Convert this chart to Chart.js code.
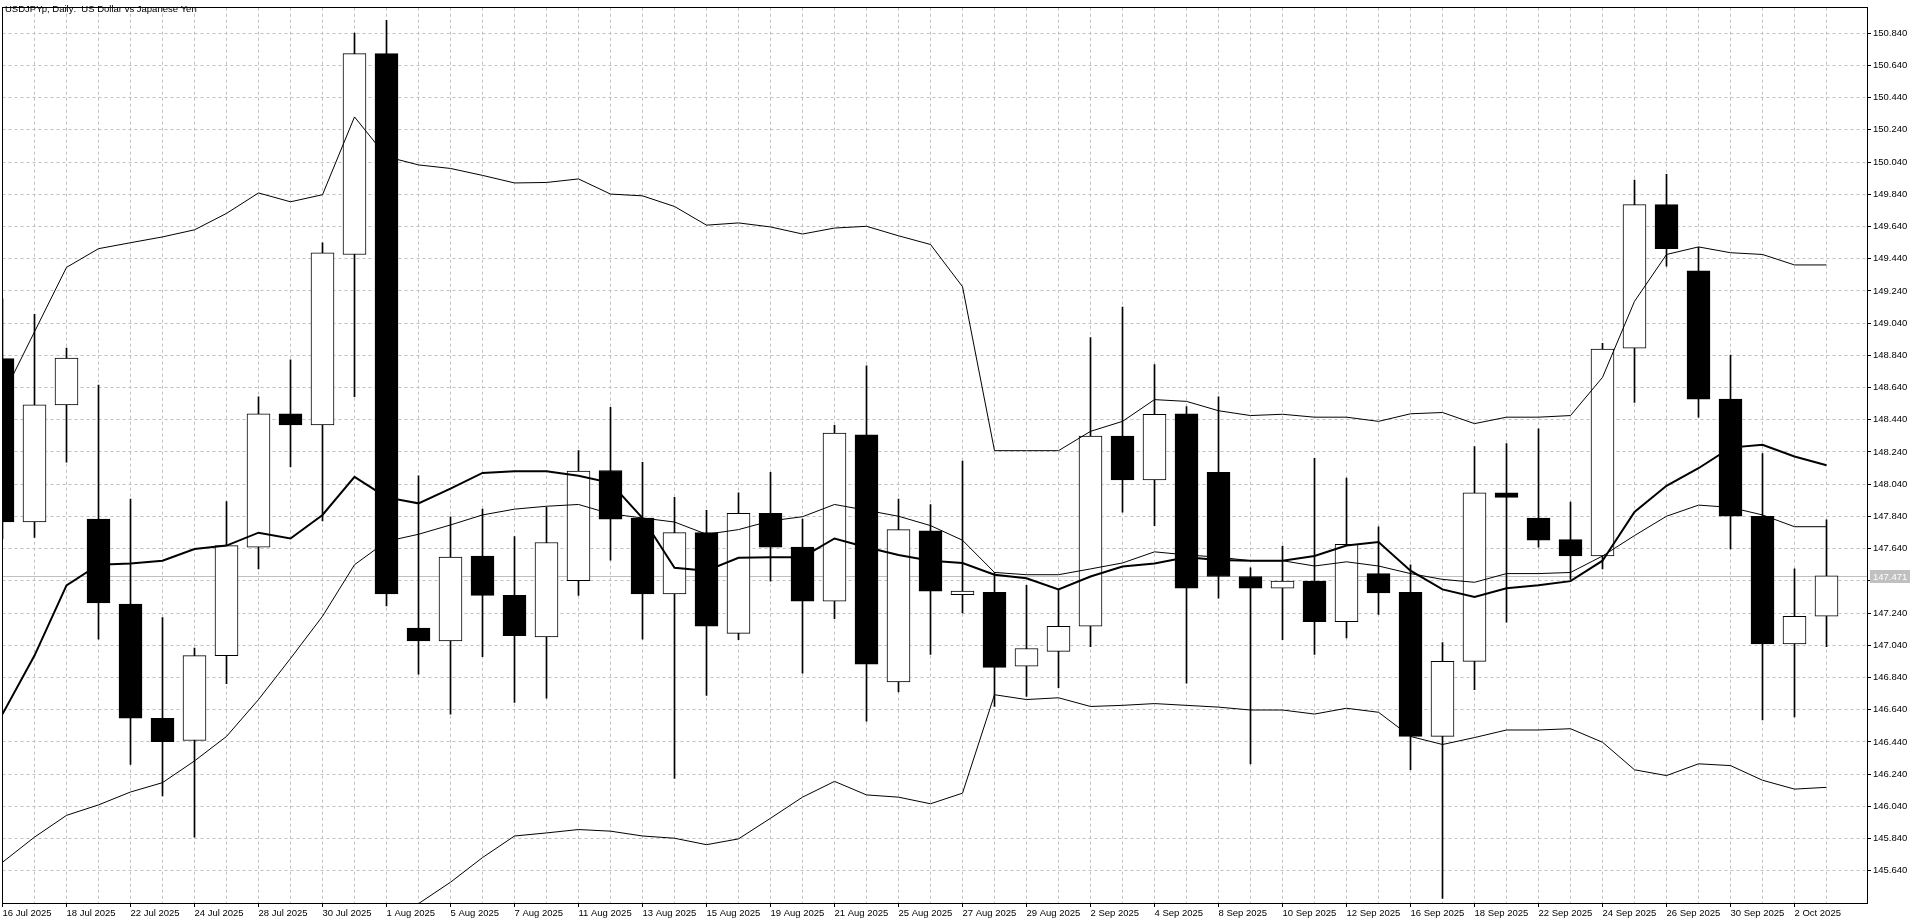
<!DOCTYPE html>
<html>
<head>
<meta charset="utf-8">
<title>USDJPYp, Daily</title>
<script src="https://cdn.jsdelivr.net/npm/chart.js@4.4.1/dist/chart.umd.min.js"></script>
<style>
  html, body { margin: 0; padding: 0; background: #fff; }
  #wrap { width: 1920px; height: 923px; position: relative; }
</style>
</head>
<body>
<div id="wrap"><canvas id="priceChart"></canvas></div>
<script>
const title = "USDJPYp, Daily:  US Dollar vs Japanese Yen";

const dates = [
  "16 Jul 2025", "17 Jul 2025", "18 Jul 2025", "21 Jul 2025", "22 Jul 2025", "23 Jul 2025",
  "24 Jul 2025", "25 Jul 2025", "28 Jul 2025", "29 Jul 2025", "30 Jul 2025", "31 Jul 2025",
  "1 Aug 2025", "4 Aug 2025", "5 Aug 2025", "6 Aug 2025", "7 Aug 2025", "8 Aug 2025",
  "11 Aug 2025", "12 Aug 2025", "13 Aug 2025", "14 Aug 2025", "15 Aug 2025", "18 Aug 2025",
  "19 Aug 2025", "20 Aug 2025", "21 Aug 2025", "22 Aug 2025", "25 Aug 2025", "26 Aug 2025",
  "27 Aug 2025", "28 Aug 2025", "29 Aug 2025", "1 Sep 2025", "2 Sep 2025", "3 Sep 2025",
  "4 Sep 2025", "5 Sep 2025", "8 Sep 2025", "9 Sep 2025", "10 Sep 2025", "11 Sep 2025",
  "12 Sep 2025", "15 Sep 2025", "16 Sep 2025", "17 Sep 2025", "18 Sep 2025", "19 Sep 2025",
  "22 Sep 2025", "23 Sep 2025", "24 Sep 2025", "25 Sep 2025", "26 Sep 2025", "29 Sep 2025",
  "30 Sep 2025", "1 Oct 2025", "2 Oct 2025", "3 Oct 2025"
];

const opens = [
  148.819, 147.805, 148.532, 147.823, 147.296, 146.587, 146.449, 146.976, 147.649, 148.477,
  148.408, 149.466, 150.713, 147.147, 147.067, 147.594, 147.350, 147.092, 147.441, 148.125,
  147.830, 147.358, 147.739, 147.114, 147.859, 147.649, 147.314, 148.347, 146.812, 147.750,
  147.354, 147.369, 146.911, 147.002, 147.158, 148.339, 148.067, 148.477, 148.114, 147.467,
  147.394, 147.438, 147.187, 147.485, 147.369, 146.474, 146.940, 147.987, 147.830, 147.696,
  147.594, 148.885, 149.775, 149.364, 148.568, 147.841, 147.049, 147.220
];
const highs = [
  149.190, 149.095, 148.885, 148.655, 147.947, 147.212, 147.023, 147.932, 148.583, 148.812,
  149.539, 150.840, 150.920, 148.092, 147.838, 147.885, 147.714, 147.896, 148.248, 148.517,
  148.176, 147.958, 147.878, 147.987, 148.114, 147.823, 148.405, 148.775, 147.947, 147.914,
  148.183, 147.492, 147.412, 147.383, 148.950, 149.139, 148.783, 148.521, 148.583, 147.521,
  147.656, 148.201, 148.078, 147.776, 147.540, 147.056, 148.274, 148.292, 148.383, 147.929,
  148.914, 149.928, 149.964, 149.510, 148.841, 148.230, 147.514, 147.819
];
const lows = [
  147.700, 147.710, 148.176, 147.078, 146.300, 146.104, 145.849, 146.802, 147.514, 148.147,
  147.812, 148.583, 147.285, 146.860, 146.613, 146.969, 146.685, 146.711, 147.350, 147.569,
  147.078, 146.213, 146.729, 147.074, 147.438, 146.867, 147.205, 146.569, 146.751, 146.983,
  147.241, 146.660, 146.722, 146.776, 147.031, 147.867, 147.783, 146.805, 147.332, 146.304,
  147.074, 146.983, 147.085, 147.231, 146.267, 145.468, 146.765, 147.183, 147.649, 147.449,
  147.514, 148.547, 149.393, 148.456, 147.638, 146.576, 146.595, 147.031
];
const closes = [
  147.805, 148.532, 148.823, 147.303, 146.587, 146.442, 146.976, 147.659, 148.477, 148.408,
  149.477, 150.713, 147.358, 147.067, 147.587, 147.350, 147.100, 147.678, 148.121, 147.823,
  147.358, 147.739, 147.158, 147.859, 147.649, 147.314, 148.357, 146.922, 147.758, 147.376,
  147.376, 146.903, 147.020, 147.158, 148.339, 148.067, 148.474, 147.394, 147.467, 147.394,
  147.438, 147.187, 147.667, 147.365, 146.474, 146.940, 147.987, 147.958, 147.692, 147.594,
  148.878, 149.775, 149.502, 148.568, 147.841, 147.049, 147.220, 147.471
];

// Bollinger bands (thin lines)
const upperBand = [
  148.586, 148.986, 149.386, 149.502, 149.539, 149.575, 149.619, 149.721, 149.848, 149.793,
  149.837, 150.320, 150.073, 150.022, 150.000, 149.957, 149.910, 149.913, 149.935, 149.841,
  149.830, 149.764, 149.648, 149.662, 149.637, 149.593, 149.630, 149.641, 149.582, 149.528,
  149.266, 148.248, 148.248, 148.248, 148.368, 148.430, 148.565, 148.554, 148.496, 148.466,
  148.474, 148.456, 148.456, 148.430, 148.477, 148.485, 148.416, 148.456, 148.456, 148.466,
  148.703, 149.175, 149.466, 149.513, 149.477, 149.466, 149.401, 149.401
];
const middleBand = [
  145.693, 145.849, 145.984, 146.049, 146.129, 146.187, 146.322, 146.474, 146.703, 146.958,
  147.220, 147.540, 147.685, 147.729, 147.787, 147.849, 147.885, 147.903, 147.914, 147.856,
  147.830, 147.805, 147.729, 147.758, 147.812, 147.838, 147.914, 147.878, 147.841, 147.783,
  147.692, 147.492, 147.478, 147.478, 147.514, 147.551, 147.620, 147.601, 147.587, 147.565,
  147.565, 147.532, 147.558, 147.532, 147.485, 147.449, 147.431, 147.485, 147.485, 147.492,
  147.594, 147.721, 147.841, 147.910, 147.896, 147.849, 147.776, 147.776
];
const lowerBand = [
  142.800, 142.712, 142.582, 142.596, 142.719, 142.799, 143.025, 143.227, 143.558, 144.123,
  144.603, 144.760, 145.297, 145.436, 145.569, 145.722, 145.856, 145.875, 145.896, 145.886,
  145.856, 145.842, 145.802, 145.838, 145.966, 146.097, 146.195, 146.111, 146.097, 146.056,
  146.122, 146.733, 146.703, 146.714, 146.660, 146.667, 146.678, 146.667, 146.656, 146.638,
  146.638, 146.613, 146.649, 146.624, 146.474, 146.424, 146.467, 146.514, 146.514, 146.522,
  146.438, 146.267, 146.231, 146.304, 146.293, 146.202, 146.147, 146.158
];
// moving average (thick line)
const maLine = [
  146.613, 146.976, 147.412, 147.540, 147.547, 147.565, 147.638, 147.659, 147.739, 147.703,
  147.849, 148.085, 147.958, 147.921, 148.012, 148.110, 148.121, 148.121, 148.092, 148.048,
  147.830, 147.521, 147.503, 147.583, 147.587, 147.587, 147.703, 147.649, 147.601, 147.565,
  147.551, 147.478, 147.456, 147.387, 147.467, 147.529, 147.547, 147.587, 147.569, 147.565,
  147.565, 147.594, 147.659, 147.681, 147.503, 147.387, 147.340, 147.394, 147.412, 147.438,
  147.565, 147.867, 148.030, 148.139, 148.267, 148.285, 148.212, 148.158
];

const yTicks = [
  145.64, 145.84, 146.04, 146.24, 146.44, 146.64, 146.84, 147.04, 147.24, 147.44,
  147.64, 147.84, 148.04, 148.24, 148.44, 148.64, 148.84, 149.04, 149.24, 149.44,
  149.64, 149.84, 150.04, 150.24, 150.44, 150.64, 150.84
];
const lastPrice = 147.471;

const font = { family: "'Liberation Sans', Arial, sans-serif", size: 9.5 };

const asPoints = (arr) => arr.map((v, i) => ({ x: i, y: v }));

const mtFrame = {
  id: "mtFrame",
  beforeDatasetsDraw(chart) {
    const { ctx, chartArea: a, scales: { y } } = chart;
    const py = Math.round(y.getPixelForValue(lastPrice)) + 0.5;
    ctx.save();
    ctx.strokeStyle = "#c0c0c0";
    ctx.lineWidth = 1;
    ctx.beginPath();
    ctx.moveTo(a.left, py);
    ctx.lineTo(a.right, py);
    ctx.stroke();
    ctx.restore();
  },
  afterDraw(chart) {
    const { ctx, chartArea: a, scales: { y } } = chart;
    ctx.save();
    ctx.setLineDash([]);
    ctx.strokeStyle = "#000";
    ctx.lineWidth = 1;
    ctx.strokeRect(Math.floor(a.left) + 0.5, Math.floor(a.top) + 0.5,
      Math.round(a.right) - Math.floor(a.left), Math.round(a.bottom) - Math.floor(a.top));

    ctx.font = font.size + "px " + font.family;
    ctx.fillStyle = "#000";
    ctx.textBaseline = "top";
    ctx.textAlign = "left";
    ctx.fillText(title, 5, 5);

    const py = Math.round(y.getPixelForValue(lastPrice));
    ctx.fillStyle = "#c0c0c0";
    ctx.fillRect(Math.round(a.right) + 3, py - 6, 40, 13);
    ctx.fillStyle = "#fff";
    ctx.textBaseline = "middle";
    ctx.fillText(lastPrice.toFixed(3), Math.round(a.right) + 6, py + 1);
    ctx.restore();
  }
};

new Chart(document.getElementById("priceChart").getContext("2d"), {
  type: "bar",
  data: {
    datasets: [
      {
        type: "line",
        data: asPoints(upperBand),
        borderColor: "#000",
        borderWidth: 1,
        pointRadius: 0,
        tension: 0,
        clip: 0,
        order: 0,
      },
      {
        type: "line",
        data: asPoints(middleBand),
        borderColor: "#000",
        borderWidth: 1,
        pointRadius: 0,
        tension: 0,
        clip: 0,
        order: 0,
      },
      {
        type: "line",
        data: asPoints(lowerBand),
        borderColor: "#000",
        borderWidth: 1,
        pointRadius: 0,
        tension: 0,
        clip: 0,
        order: 0,
      },
      {
        type: "line",
        data: asPoints(maLine),
        borderColor: "#000",
        borderWidth: 2,
        pointRadius: 0,
        tension: 0,
        clip: 0,
        order: 0,
      },
      {
        // candle bodies
        data: opens.map((o, i) => ({ x: i, y: [o, closes[i]] })),
        backgroundColor: (c) => (closes[c.dataIndex] >= opens[c.dataIndex] ? "#fff" : "#000"),
        borderColor: "#000",
        borderWidth: 1,
        borderSkipped: false,
        barThickness: 23,
        grouped: false,
        clip: 0,
        order: 1,
      },
      {
        // wicks
        data: lows.map((l, i) => ({ x: i, y: [l, highs[i]] })),
        backgroundColor: "#000",
        borderWidth: 0,
        barThickness: 1,
        grouped: false,
        clip: 0,
        order: 2,
      },
    ],
  },
  options: {
    responsive: true,
    maintainAspectRatio: false,
    animation: false,
    events: [],
    layout: { padding: { left: 2.5, top: 2, right: 0, bottom: 0 } },
    plugins: {
      legend: { display: false },
      tooltip: { enabled: false },
    },
    scales: {
      x: {
        type: "linear",
        min: 0,
        max: 58.265625,
        offset: false,
        afterBuildTicks: (scale) => {
          scale.ticks = dates.map((d, i) => ({ value: i }));
        },
        afterFit: (scale) => {
          scale.height = 20;
        },
        ticks: {
          autoSkip: false,
          maxRotation: 0,
          align: "start",
          padding: 1,
          color: "#000",
          font: font,
          callback: (v) => (v % 2 === 0 ? dates[v] : ""),
        },
        grid: {
          offset: false,
          color: "#c0c0c0",
          lineWidth: 1,
          tickLength: 4,
          tickColor: (c) => (c.index % 2 === 0 ? "#000" : "rgba(0,0,0,0)"),
          tickBorderDash: [],
        },
        border: { display: false, dash: [3, 3] },
      },
      y: {
        type: "linear",
        position: "right",
        min: 145.44,
        max: 150.998,
        afterBuildTicks: (scale) => {
          scale.ticks = yTicks.map((v) => ({ value: v }));
        },
        afterFit: (scale) => {
          scale.width = 53;
        },
        ticks: {
          padding: 2,
          color: "#000",
          font: font,
          callback: (v) => v.toFixed(3),
        },
        grid: {
          color: "#c0c0c0",
          lineWidth: 1,
          tickLength: 4,
          tickColor: "#000",
          tickBorderDash: [],
        },
        border: { display: false, dash: [3, 3] },
      },
    },
  },
  plugins: [mtFrame],
});
</script>
</body>
</html>
